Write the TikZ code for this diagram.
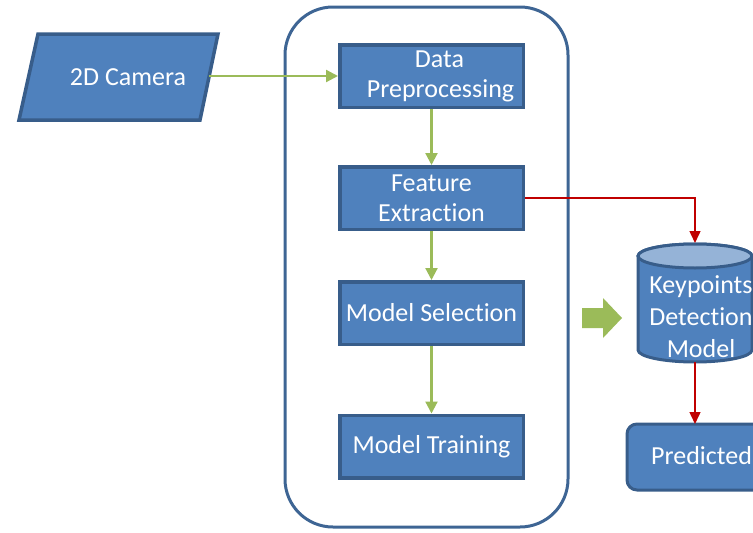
\documentclass[tikz,border=0pt]{standalone}
\usepackage{fontspec}
\setmainfont{Carlito}[Ligatures={NoCommon}]
\usetikzlibrary{arrows.meta}
\definecolor{boxfill}{HTML}{4F81BD}
\definecolor{boxline}{HTML}{385D8A}
\definecolor{grpline}{HTML}{3E6594}
\definecolor{flowgreen}{HTML}{9BBB59}
\definecolor{flowred}{HTML}{C00000}
\definecolor{cyltop}{HTML}{95B3D7}
\tikzset{
  stepbox/.style={rectangle, draw=boxline, line width=3.5pt, fill=boxfill,
    minimum width=183.5pt, minimum height=62.5pt, inner sep=0pt,
    text=white, align=center, font=\fontsize{26}{30}\selectfont},
  lbl/.style={text=white, align=center, inner sep=0pt, font=\fontsize{26}{32}\selectfont},
  garrow/.style={draw=flowgreen, line width=2.2pt, -{Triangle[length=12pt,width=12pt]}},
  rarrow/.style={draw=flowred, line width=1.5pt, -{Triangle[length=12pt,width=11pt]}},
}
\begin{document}
\begin{tikzpicture}[x=1pt,y=-1pt]
\useasboundingbox (0,0) rectangle (753,533);
% container
\draw[grpline, line width=3pt, rounded corners=48pt] (285,7) rectangle (568,527);
% camera parallelogram
\draw[boxline, line width=3.5pt, fill=boxfill, line join=miter] (38,34) -- (218,34) -- (200,120) -- (19,120) -- cycle;
\node[lbl] (cam) at (128,77) {2D Camera};
\coordinate (camR) at (209,76);
% process boxes
\node[stepbox] (dp) at (431.5,76) {\hspace*{16pt}Data\\\hspace*{18pt}Preprocessing};
\node[stepbox] (fe) at (431.5,198) {Feature\\Extraction};
\node[stepbox] (ms) at (431.5,313) {Model Selection};
\node[stepbox] (mt) at (431.5,446.5) {Model Training};
% green arrows
\draw[garrow] (camR) -- (dp.west);
\draw[garrow] (dp.south) -- (fe.north);
\draw[garrow] (fe.south) -- (ms.north);
\draw[garrow] (ms.south) -- (mt.north);
% block arrow
\fill[flowgreen] (582,308) -- (603,308) -- (603,298) -- (622,318) -- (603,338) -- (603,328) -- (582,328) -- cycle;
\begin{scope}
\clip (0,0) rectangle (753,533);
% cylinder
\draw[boxline, line width=3pt, fill=boxfill] (638,256) -- (638,350) arc[start angle=180, end angle=0, x radius=57, y radius=12] -- (752,256) arc[start angle=0, end angle=-180, x radius=57, y radius=12] -- cycle;
\draw[boxline, line width=3pt, fill=cyltop] (695,256) ellipse[x radius=57, y radius=12];
% predicted box
\draw[boxline, line width=3pt, fill=boxfill, rounded corners=10pt] (627,424) rectangle (820,490);
\end{scope}
\coordinate (kdmT) at (695,243);
\coordinate (kdmB) at (695,362);
\node[lbl] (kdm) at (701,317) {Keypoints\\Detection\\Model};
\node[lbl, anchor=west] (pred) at (651,456) {Predicted};
\coordinate (predT) at (695,424);
% red arrows
\draw[rarrow] (fe.east) -| (kdmT);
\draw[rarrow] (kdmB) -- (predT);
\end{tikzpicture}
\end{document}
